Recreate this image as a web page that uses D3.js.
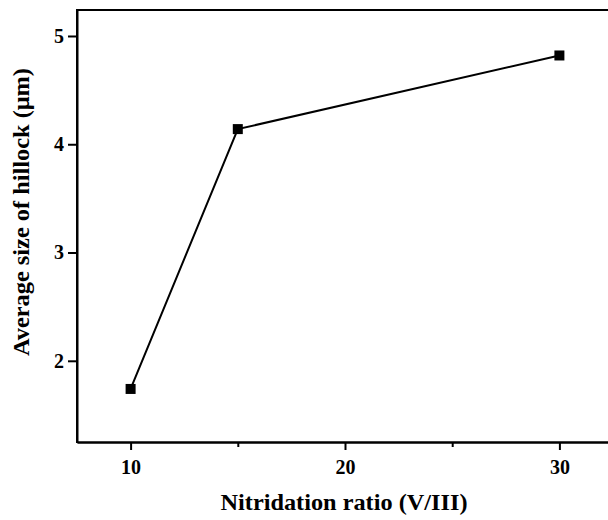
<!DOCTYPE html>
<html><head><meta charset="utf-8">
<script src="https://cdn.jsdelivr.net/npm/d3@7"></script>
<style>body{margin:0;background:#fff}svg{display:block}</style>
</head><body>
<svg id="c" width="608" height="520"></svg>
<script>
const ratios = [10, 15, 30];
const sizes = [1.74, 4.14, 4.82];
const xTicks = [10, 20, 30];
const xMinorTicks = [15, 25];
const yTicks = [2, 3, 4, 5];
const xTitle = "Nitridation ratio (V/III)";
const yTitle = "Average size of hillock (\u03bcm)";

const svg = d3.select("#c");
const L = 77, T = 10, R = 613, B = 442;
const x = d3.scaleLinear().domain([7.5, 32.5]).range([L, R]);
const y = d3.scaleLinear().domain([1.25, 5.24]).range([B, T]);
const font = "'Liberation Serif','Times New Roman',serif";

const xa = svg.append("g").attr("transform",`translate(0,${B})`)
  .call(d3.axisBottom(x).tickValues(xTicks).tickSizeInner(8).tickSizeOuter(0).tickPadding(10).tickFormat(d3.format("d")));
const xm = svg.append("g").attr("transform",`translate(0,${B})`)
  .call(d3.axisBottom(x).tickValues(xMinorTicks).tickSizeInner(5).tickSizeOuter(0).tickFormat(""));
const ya = svg.append("g").attr("transform",`translate(${L},0)`)
  .call(d3.axisLeft(y).tickValues(yTicks).tickSizeInner(9).tickSizeOuter(0).tickPadding(4).tickFormat(d3.format("d")));
[xa, xm, ya].forEach(g=>{
  g.attr("font-size",20).attr("font-family",font);
  g.select(".domain").attr("stroke","#000").attr("stroke-width",2);
  g.selectAll(".tick line").attr("stroke","#000").attr("stroke-width",2);
  g.selectAll("text").style("font-family",font).style("font-weight","bold").style("font-size","20px").attr("fill","#000");
});
// frame
svg.append("path").attr("d", `M${L},${B+1}V${T}H${R}`).attr("fill","none").attr("stroke","#000").attr("stroke-width",2);

const pts = ratios.map((r,i)=>[r, sizes[i]]);
svg.append("path").datum(pts)
  .attr("d", d3.line().x(d=>x(d[0])).y(d=>y(d[1])))
  .attr("fill","none").attr("stroke","#000").attr("stroke-width",2);
svg.selectAll("rect.m").data(pts).join("rect").attr("class","m")
  .attr("x", d=>x(d[0])-5).attr("y", d=>y(d[1])-5).attr("width",10).attr("height",10).attr("fill","#000");

svg.append("text").attr("x", 344).attr("y", 510).attr("text-anchor","middle")
  .style("font-family",font).style("font-weight","bold").style("font-size","23px")
  .attr("textLength",247).attr("lengthAdjust","spacingAndGlyphs").text(xTitle);
svg.append("text").attr("transform",`translate(29,212) rotate(-90)`).attr("text-anchor","middle")
  .style("font-family",font).style("font-weight","bold").style("font-size","23px")
  .attr("textLength",288).attr("lengthAdjust","spacingAndGlyphs").text(yTitle);
</script>
</body></html>
